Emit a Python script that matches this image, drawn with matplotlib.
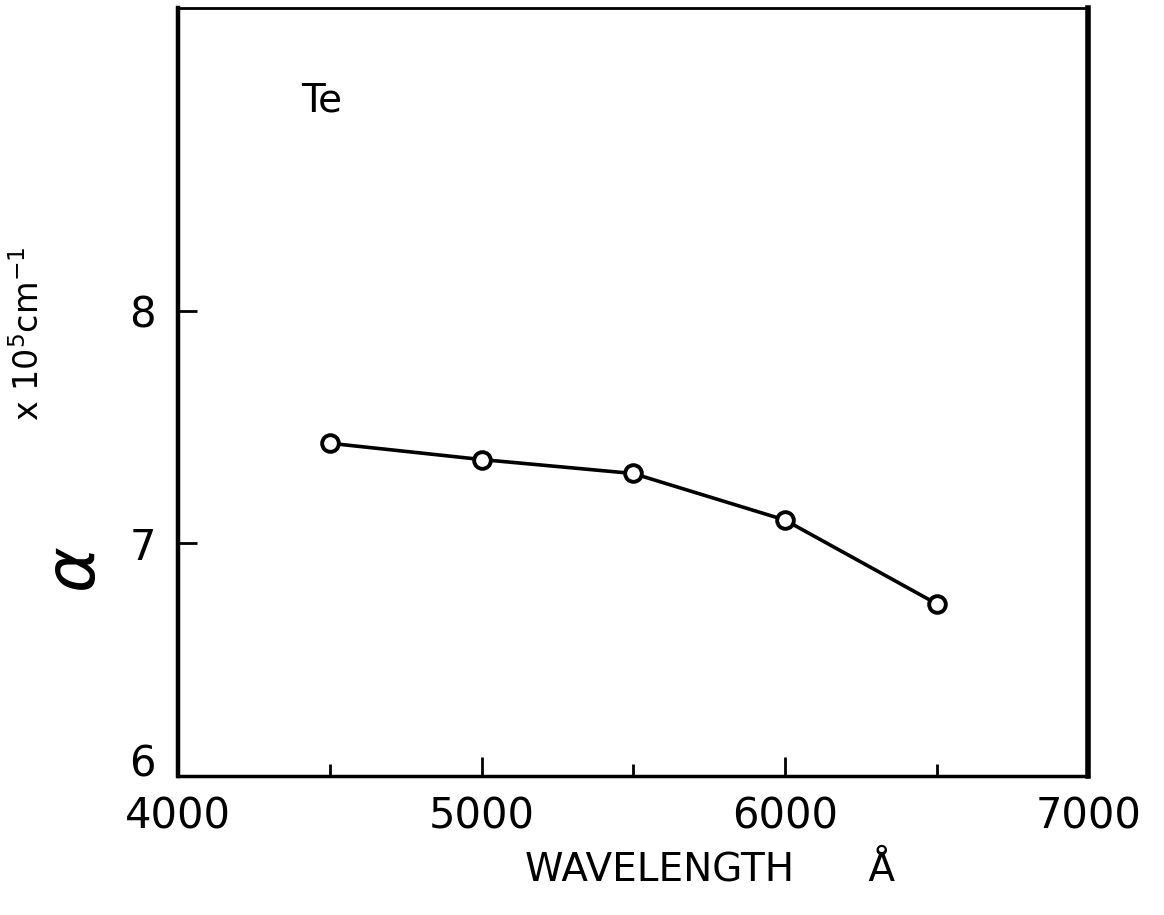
import numpy as np
import matplotlib
matplotlib.use('Agg')
import matplotlib.pyplot as plt
from matplotlib.transforms import ScaledTranslation

# data
wavelength = [4500, 5000, 5500, 6000, 6500]
alpha = [7.43, 7.36, 7.30, 7.10, 6.74]

xticks = [4000, 5000, 6000, 7000]
xminor = [4500, 5500, 6500]
yticks = [6, 7, 8]

fig = plt.figure(figsize=(11.64, 9.15), dpi=100)
ax = fig.add_axes([0.153, 0.152, 0.782, 0.839])

ax.plot(wavelength, alpha, '-', color='black', lw=2.6, zorder=2)
ax.plot(wavelength, alpha, 'o', ms=12, mfc='white', mec='black', mew=2.8, zorder=3)

ax.set_xlim(4000, 7000)
ax.set_ylim(6, 9.3)
ax.set_xticks(xticks)
ax.set_xticks(xminor, minor=True)
ax.set_yticks(yticks)
ax.tick_params(axis='both', which='major', direction='in', length=14, width=2,
               labelsize=30)
ax.tick_params(axis='x', which='major', pad=14)
ax.tick_params(axis='y', which='major', pad=16)
ax.tick_params(axis='x', which='minor', direction='in', length=9, width=2)
ax.tick_params(axis='y', which='minor', left=False)

# lift the "6" a little so it clears the 4000 below it
fig.canvas.draw()
lab6 = ax.get_yticklabels()[0]
lab6.set_transform(lab6.get_transform() + ScaledTranslation(0, 0.16, fig.dpi_scale_trans))

for side, w in [('left', 3.2), ('right', 4.0), ('top', 2.0), ('bottom', 2.5)]:
    ax.spines[side].set_linewidth(w)

ax.text(0.135, 0.905, 'Te', transform=ax.transAxes, fontsize=28, va='top', ha='left')

fig.text(0.61, 0.05, 'WAVELENGTH      Å', fontsize=28, ha='center', va='center')
fig.text(0.065, 0.377, r'$\alpha$', fontsize=50, rotation=90, ha='center', va='center')
fig.text(0.025, 0.635, r'x 10$^5$cm$^{-1}$', fontsize=24, rotation=90,
         ha='center', va='center')

fig.savefig('out.png', dpi=100)
